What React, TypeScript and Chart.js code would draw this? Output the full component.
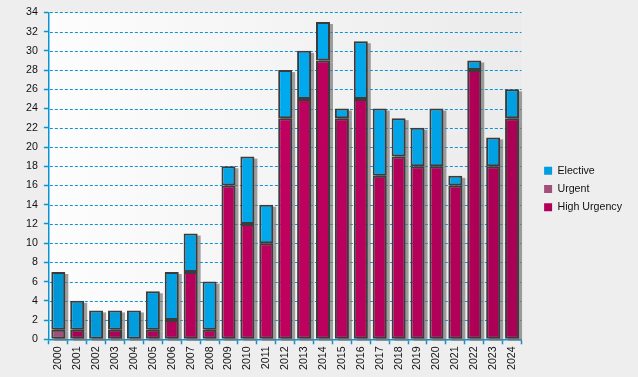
import React, { useEffect, useRef } from "react";
import { Chart, registerables } from "chart.js";

Chart.register(...registerables);

const years = [
  "2000", "2001", "2002", "2003", "2004", "2005", "2006", "2007", "2008", "2009",
  "2010", "2011", "2012", "2013", "2014", "2015", "2016", "2017", "2018", "2019",
  "2020", "2021", "2022", "2023", "2024",
];
const highUrgency = [0, 1, 0, 1, 0, 1, 2, 7, 1, 16, 12, 10, 23, 25, 29, 23, 25, 17, 19, 18, 18, 16, 28, 18, 23];
const urgent = [1, 0, 0, 0, 0, 0, 0, 0, 0, 0, 0, 0, 0, 0, 0, 0, 0, 0, 0, 0, 0, 0, 0, 0, 0];
const elective = [6, 3, 3, 2, 3, 4, 5, 4, 5, 2, 7, 4, 5, 5, 4, 1, 6, 7, 4, 4, 6, 1, 1, 3, 3];
const yMax = 34;
const yStep = 2;

const FONT = "'Liberation Sans', Arial, sans-serif";
const AXIS_BLUE = "#0a94d6";

function hGradient(ctx: any, stops: string[]) {
  const chart = ctx.chart;
  const area = chart.chartArea;
  if (!area) return stops[1];
  const g = chart.ctx.createLinearGradient(area.left, 0, area.right, 0);
  g.addColorStop(0, stops[0]);
  g.addColorStop(0.5, stops[1]);
  g.addColorStop(1, stops[2]);
  return g;
}

const backgroundPlugin = {
  id: "bgPlugin",
  afterLayout(chart: any) {
    const lg = chart.legend;
    if (lg) {
      lg.top -= 3;
      lg.bottom -= 3;
    }
  },
  beforeDraw(chart: any) {
    const { ctx, width, height, chartArea } = chart;
    ctx.save();
    ctx.fillStyle = "#eeeeee";
    ctx.fillRect(0, 0, width, height);
    const g = ctx.createLinearGradient(chartArea.left, 0, chartArea.right, 0);
    g.addColorStop(0, "#fdfdfd");
    g.addColorStop(1, "#ebebeb");
    ctx.fillStyle = g;
    ctx.fillRect(chartArea.left, chartArea.top, chartArea.right - chartArea.left, chartArea.bottom - chartArea.top);
    ctx.restore();
  },
  beforeDatasetsDraw(chart: any) {
    const { ctx, chartArea } = chart;
    // dotted horizontal grid lines at the y scale's ticks
    const yScale = chart.scales.y;
    ctx.save();
    ctx.strokeStyle = AXIS_BLUE;
    ctx.lineWidth = 1;
    ctx.setLineDash([3, 2]);
    yScale.ticks.forEach((t: any) => {
      if (t.value === 0) return;
      const py = Math.round(yScale.getPixelForValue(t.value)) + 0.5;
      ctx.beginPath();
      ctx.moveTo(chartArea.left + 1, py);
      ctx.lineTo(chartArea.right, py);
      ctx.stroke();
    });
    ctx.restore();

    // bar shadows
    ctx.save();
    ctx.beginPath();
    ctx.rect(chartArea.left, chartArea.top - 5, chartArea.right - chartArea.left + 5, chartArea.bottom - chartArea.top + 7);
    ctx.clip();
    ctx.fillStyle = "rgba(120,120,120,0.7)";
    chart.data.datasets.forEach((_ds: any, i: number) => {
      const meta = chart.getDatasetMeta(i);
      if (meta.hidden) return;
      meta.data.forEach((el: any) => {
        const p = el.getProps(["x", "y", "base", "width"], true);
        const h = Math.abs(p.base - p.y);
        if (h < 0.5) return;
        const top = Math.min(p.y, p.base);
        ctx.fillRect(p.x - p.width / 2 + 3, top + 2, p.width, h);
      });
    });
    ctx.restore();
  },
};

export default function App() {
  const ref = useRef<HTMLCanvasElement | null>(null);

  useEffect(() => {
    if (!ref.current) return;
    const common = {
      borderColor: "#3c3c3c",
      borderWidth: 2,
      borderSkipped: false,
      barPercentage: 0.74,
      categoryPercentage: 1,
    };
    const chart = new Chart(ref.current, {
      type: "bar",
      data: {
        labels: years,
        datasets: [
          {
            label: "High Urgency",
            data: highUrgency,
            backgroundColor: (c: any) => hGradient(c, ["#a60055", "#c0005f", "#aa0055"]),
            ...common,
          },
          {
            label: "Urgent",
            data: urgent,
            backgroundColor: "#a0507a",
            ...common,
          },
          {
            label: "Elective",
            data: elective,
            backgroundColor: (c: any) => hGradient(c, ["#0096d6", "#00aaee", "#009fe2"]),
            ...common,
          },
        ],
      },
      options: {
        animation: false,
        responsive: false,
        maintainAspectRatio: false,
        layout: { padding: { left: 20, top: 12, right: 6, bottom: 5 } },
        plugins: {
          legend: {
            position: "right",
            reverse: true,
            labels: {
              boxWidth: 8,
              boxHeight: 8,
              padding: 7.6,
              color: "#111",
              font: { family: FONT, size: 10.67 },
              generateLabels: (chart: any) => {
                const solid = ["#b0005a", "#a0507a", "#009ee0"];
                return chart.data.datasets.map((ds: any, i: number) => ({
                  text: ds.label,
                  fillStyle: solid[i],
                  strokeStyle: solid[i],
                  lineWidth: 0,
                  hidden: false,
                  datasetIndex: i,
                  fontColor: "#111",
                }));
              },
            },
          },
          tooltip: { enabled: false },
        },
        scales: {
          x: {
            stacked: true,
            grid: {
              display: true,
              drawOnChartArea: false,
              offset: true,
              tickLength: 5,
              tickColor: AXIS_BLUE,
              tickWidth: 1.5,
            },
            border: { display: true, color: AXIS_BLUE, width: 1.5 },
            ticks: {
              minRotation: 90,
              maxRotation: 90,
              autoSkip: false,
              padding: 2,
              color: "#111",
              font: { family: FONT, size: 10.67 },
            },
          },
          y: {
            stacked: true,
            min: 0,
            max: yMax,
            grid: {
              drawOnChartArea: false,
              tickLength: 5,
              tickColor: AXIS_BLUE,
              tickWidth: 1.5,
            },
            border: { display: true, color: AXIS_BLUE, width: 1.5 },
            ticks: {
              stepSize: yStep,
              padding: 6,
              color: "#111",
              font: { family: FONT, size: 10.67 },
            },
          },
          yRightSpacer: {
            type: "linear",
            position: "right",
            display: true,
            grid: { display: false },
            border: { display: false },
            ticks: { display: false },
            afterFit: (scale: any) => {
              scale.width = 15;
            },
          },
        },
      } as any,
      plugins: [backgroundPlugin],
    });
    return () => chart.destroy();
  }, []);

  return (
    <div style={{ position: "fixed", left: 0, top: 0, width: 638, height: 377 }}>
      <canvas ref={ref} width={638} height={377} style={{ width: 638, height: 377 }} />
    </div>
  );
}
